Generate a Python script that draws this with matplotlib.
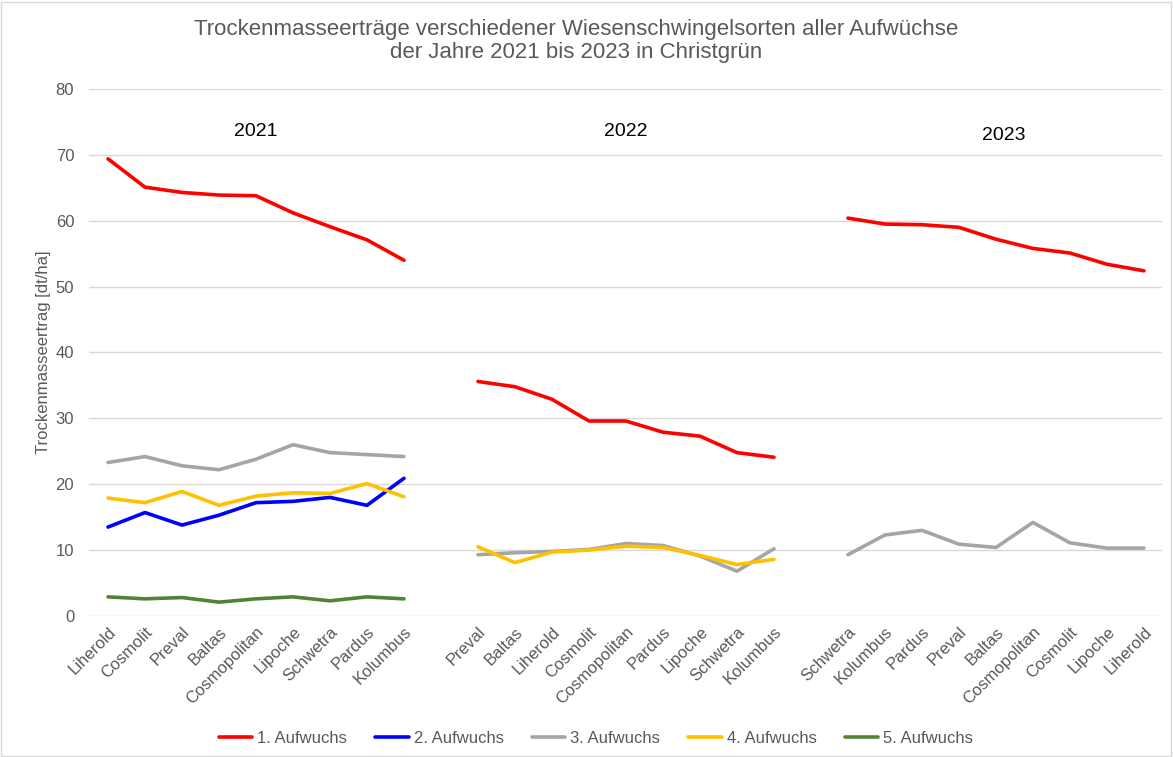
import numpy as np
import matplotlib
matplotlib.use("Agg")
import matplotlib.pyplot as plt
from matplotlib.patches import Rectangle

plt.rcParams['font.family'] = ['Liberation Sans', 'DejaVu Sans']

years = ["2021", "2022", "2023"]
sorten_2021 = ["Liherold", "Cosmolit", "Preval", "Baltas", "Cosmopolitan", "Lipoche", "Schwetra", "Pardus", "Kolumbus"]
sorten_2022 = ["Preval", "Baltas", "Liherold", "Cosmolit", "Cosmopolitan", "Pardus", "Lipoche", "Schwetra", "Kolumbus"]
sorten_2023 = ["Schwetra", "Kolumbus", "Pardus", "Preval", "Baltas", "Cosmopolitan", "Cosmolit", "Lipoche", "Liherold"]

a1_2021 = [69.4, 65.1, 64.3, 63.9, 63.8, 61.2, 59.1, 57.1, 54.0]
a2_2021 = [13.5, 15.7, 13.8, 15.3, 17.2, 17.4, 18.0, 16.8, 20.9]
a3_2021 = [23.3, 24.2, 22.8, 22.2, 23.8, 26.0, 24.8, 24.5, 24.2]
a4_2021 = [17.9, 17.2, 18.9, 16.8, 18.2, 18.7, 18.6, 20.1, 18.1]
a5_2021 = [2.9, 2.6, 2.8, 2.1, 2.6, 2.9, 2.3, 2.9, 2.6]

a1_2022 = [35.6, 34.8, 32.9, 29.6, 29.6, 27.9, 27.3, 24.8, 24.1]
a3_2022 = [9.3, 9.6, 9.8, 10.1, 11.0, 10.7, 9.1, 6.8, 10.2]
a4_2022 = [10.5, 8.1, 9.7, 10.0, 10.6, 10.4, 9.2, 7.8, 8.6]

a1_2023 = [60.4, 59.5, 59.4, 59.0, 57.2, 55.8, 55.1, 53.4, 52.4]
a3_2023 = [9.3, 12.3, 13.0, 10.9, 10.4, 14.2, 11.1, 10.3, 10.3]

series_names = ["1. Aufwuchs", "2. Aufwuchs", "3. Aufwuchs", "4. Aufwuchs", "5. Aufwuchs"]
series_colors = ["#FF0000", "#0000FF", "#A5A5A5", "#FFC000", "#548235"]

# Build category axis: 9 + gap + 9 + gap + 9
categories = sorten_2021 + [""] + sorten_2022 + [""] + sorten_2023
n = len(categories)
x = np.arange(n)
off = {"2021": 0, "2022": 10, "2023": 20}

data = {
    0: {"2021": a1_2021, "2022": a1_2022, "2023": a1_2023},
    1: {"2021": a2_2021},
    2: {"2021": a3_2021, "2022": a3_2022, "2023": a3_2023},
    3: {"2021": a4_2021, "2022": a4_2022},
    4: {"2021": a5_2021},
}

fig = plt.figure(figsize=(11.73, 7.57), dpi=100)
ax = fig.add_axes([0.0763, 0.1863, 0.9147, 0.6961])

for si in range(5):
    first = True
    for yr in years:
        if yr in data[si]:
            vals = data[si][yr]
            xs = x[off[yr]:off[yr] + len(vals)]
            ax.plot(xs, vals, color=series_colors[si], lw=2.6,
                    solid_capstyle='round', solid_joinstyle='round',
                    label=series_names[si] if first else None, zorder=3)
            first = False

ax.set_xlim(-0.5, n - 0.5)
ax.set_ylim(0, 80)
ax.set_yticks(np.arange(0, 81, 10))
ax.yaxis.grid(True, color="#D9D9D9", lw=1.0)
ax.set_axisbelow(True)
for s in ax.spines.values():
    s.set_visible(False)
ax.tick_params(axis='both', length=0, colors="#595959", labelsize=12)
ax.tick_params(axis='y', pad=11)
ax.set_xticks(x)
ax.set_xticklabels(categories, rotation=45, ha='right', rotation_mode='anchor',
                   fontsize=12, color="#595959")
ax.tick_params(axis='x', pad=6)

ax.set_ylabel("Trockenmasseertrag [dt/ha]", color="#595959", fontsize=12, labelpad=3)

ax.text(4, 73.6, "2021", ha='center', va='center', fontsize=14, color="#000000")
ax.text(14, 73.6, "2022", ha='center', va='center', fontsize=14, color="#000000")
ax.text(24.2, 73.0, "2023", ha='center', va='center', fontsize=14, color="#000000")

fig.text(0.491, 0.946, "Trockenmasseerträge verschiedener Wiesenschwingelsorten aller Aufwüchse\nder Jahre 2021 bis 2023 in Christgrün",
         ha='center', va='center', fontsize=16, color="#595959", linespacing=1.15)

leg = fig.legend(loc='center', bbox_to_anchor=(0.508, 0.025), ncol=5, frameon=False,
                 fontsize=12, handlelength=2.0, columnspacing=1.7, handletextpad=0.3)
for t in leg.get_texts():
    t.set_color("#595959")

fig.patches.append(Rectangle((0.001, 0.001), 0.997, 0.997, transform=fig.transFigure,
                             fill=False, edgecolor="#D9D9D9", lw=1.0))

fig.savefig("out.png", dpi=100)
